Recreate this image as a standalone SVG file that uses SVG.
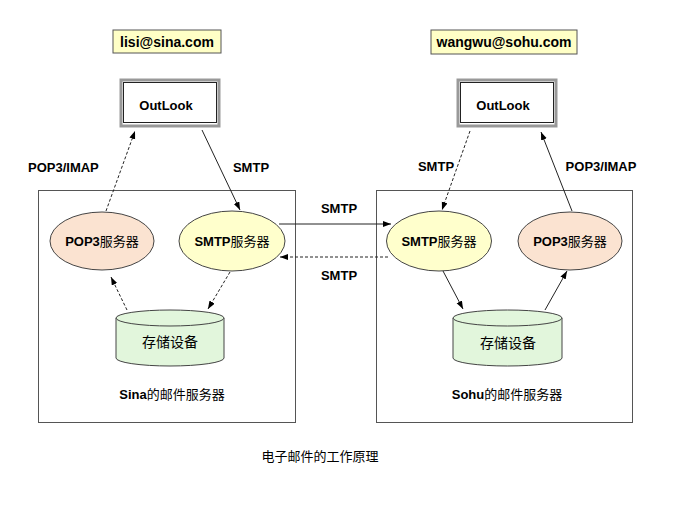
<svg xmlns="http://www.w3.org/2000/svg" width="687" height="515" viewBox="0 0 687 515">
<style>
.lat{font-family:"Liberation Sans",Arial,sans-serif;font-weight:bold;fill:#000}
.cjk{font-family:"Noto Sans CJK SC",sans-serif;font-weight:normal}
.lbl{font-family:"Liberation Sans","Noto Sans CJK SC",sans-serif;font-weight:bold;font-size:13px;fill:#000}
.mail{fill:#FFFFC6;stroke:#555;stroke-width:1}
.frame{fill:none;stroke:#555;stroke-width:1}
.smtp{fill:#FFFFCC;stroke:#444;stroke-width:1}
.pop{fill:#FBE3D1;stroke:#444;stroke-width:1}
.cyl{fill:#E2F6DC;stroke:#444;stroke-width:1}
.ln{stroke:#222;stroke-width:1;fill:none}
.dash{stroke-dasharray:3,2}
</style>
<defs>
<marker id="ah" markerUnits="userSpaceOnUse" markerWidth="9" markerHeight="7" refX="8" refY="3" orient="auto">
<path d="M0,0 L8,3 L0,6 z" fill="#000"/>
</marker>
</defs>
<rect width="687" height="515" fill="#fff"/>

<g id="mail-left">
<rect class="mail" x="113" y="30" width="108" height="23"/>
<text class="lat" x="167" y="47" font-size="14" text-anchor="middle">lisi@sina.com</text>
</g>
<g id="mail-right">
<rect class="mail" x="431" y="30" width="146" height="24"/>
<text class="lat" x="504" y="47" font-size="14" text-anchor="middle">wangwu@sohu.com</text>
</g>

<g id="outlook-left">
<rect x="121" y="80" width="98" height="46" fill="#fff" stroke="#999" stroke-width="3"/>
<rect x="123.5" y="82.5" width="93" height="40" fill="none" stroke="#222" stroke-width="1"/>
<text class="lat" x="166" y="110" font-size="13" text-anchor="middle">OutLook</text>
</g>
<g id="outlook-right">
<rect x="458" y="80" width="98" height="46" fill="#fff" stroke="#999" stroke-width="3"/>
<rect x="460.5" y="82.5" width="93" height="40" fill="none" stroke="#222" stroke-width="1"/>
<text class="lat" x="503" y="110" font-size="13" text-anchor="middle">OutLook</text>
</g>

<g id="server-left">
<rect class="frame" x="38.5" y="190.5" width="257" height="232"/>
<text class="lbl" x="172" y="399" text-anchor="middle">Sina<tspan class="cjk">的邮件服务器</tspan></text>
</g>
<g id="server-right">
<rect class="frame" x="376.5" y="190.5" width="256" height="232"/>
<text class="lbl" x="507" y="399" text-anchor="middle">Sohu<tspan class="cjk">的邮件服务器</tspan></text>
</g>

<g id="pop3-left">
<ellipse class="pop" cx="102" cy="241" rx="52" ry="29"/>
<text class="lbl" x="102" y="246" text-anchor="middle">POP3<tspan class="cjk">服务器</tspan></text>
</g>
<g id="smtp-left">
<ellipse class="smtp" cx="232" cy="241" rx="53" ry="30"/>
<text class="lbl" x="232" y="246" text-anchor="middle">SMTP<tspan class="cjk">服务器</tspan></text>
</g>
<g id="smtp-right">
<ellipse class="smtp" cx="439" cy="241" rx="52.5" ry="30"/>
<text class="lbl" x="439" y="246" text-anchor="middle">SMTP<tspan class="cjk">服务器</tspan></text>
</g>
<g id="pop3-right">
<ellipse class="pop" cx="570" cy="241" rx="52" ry="29"/>
<text class="lbl" x="570" y="246" text-anchor="middle">POP3<tspan class="cjk">服务器</tspan></text>
</g>

<g id="store-left">
<path class="cyl" d="M116,318 L116,358 A54,8 0 0 0 224,358 L224,318 Z"/>
<ellipse class="cyl" cx="170" cy="318" rx="54" ry="8"/>
<text class="cjk" x="170" y="347" font-size="14" text-anchor="middle" fill="#000">存储设备</text>
</g>
<g id="store-right">
<path class="cyl" d="M453,318 L453,358 A54.5,8 0 0 0 562,358 L562,318 Z"/>
<ellipse class="cyl" cx="507.5" cy="318" rx="54.5" ry="8"/>
<text class="cjk" x="508" y="348" font-size="14" text-anchor="middle" fill="#000">存储设备</text>
</g>

<g id="connectors">
<line class="ln dash" x1="106" y1="211" x2="135" y2="131" marker-end="url(#ah)"/>
<line class="ln" x1="202" y1="130" x2="240" y2="210" marker-end="url(#ah)"/>
<line class="ln" x1="279" y1="224" x2="391" y2="224" marker-end="url(#ah)"/>
<line class="ln dash" x1="388" y1="257" x2="280" y2="257" marker-end="url(#ah)"/>
<line class="ln dash" x1="230" y1="272" x2="208" y2="309" marker-end="url(#ah)"/>
<line class="ln dash" x1="127" y1="310" x2="111" y2="277" marker-end="url(#ah)"/>
<line class="ln dash" x1="470" y1="131" x2="442" y2="210" marker-end="url(#ah)"/>
<line class="ln" x1="572" y1="211" x2="541" y2="132" marker-end="url(#ah)"/>
<line class="ln" x1="443" y1="271" x2="463" y2="309" marker-end="url(#ah)"/>
<line class="ln" x1="545" y1="310" x2="567" y2="271" marker-end="url(#ah)"/>
</g>

<g id="labels">
<text class="lbl" x="28" y="172">POP3/IMAP</text>
<text class="lbl" x="251" y="172" text-anchor="middle">SMTP</text>
<text class="lbl" x="339" y="213" text-anchor="middle">SMTP</text>
<text class="lbl" x="339" y="280" text-anchor="middle">SMTP</text>
<text class="lbl" x="436" y="171" text-anchor="middle">SMTP</text>
<text class="lbl" x="601" y="171" text-anchor="middle">POP3/IMAP</text>
<text class="cjk" x="320" y="461" font-size="13" text-anchor="middle" fill="#000">电子邮件的工作原理</text>
</g>
</svg>
